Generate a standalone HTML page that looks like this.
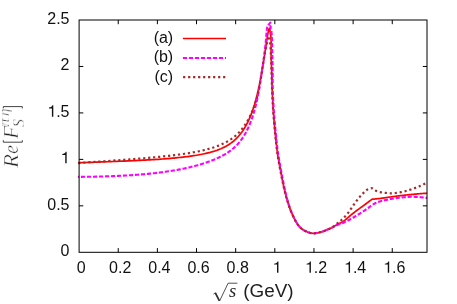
<!DOCTYPE html>
<html>
<head>
<meta charset="utf-8">
<title>Re[F_S^(pi eta)] vs sqrt(s)</title>
<style>
  html, body { margin: 0; padding: 0; background: #ffffff; }
  body { width: 457px; height: 304px; overflow: hidden; }
  svg { display: block; will-change: transform; }
  .sans { font-family: "Liberation Sans", sans-serif; }
  .serif { font-family: "Liberation Serif", serif; font-style: italic; }
</style>
</head>
<body>
<svg width="457" height="304" viewBox="0 0 457 304">
  <rect x="0" y="0" width="457" height="304" fill="#ffffff"/>

  <!-- curves -->
  <g fill="none" stroke-linejoin="round">
    <path d="M78.00,162.74 L81.55,162.63 L85.03,162.51 L88.45,162.40 L91.81,162.29 L95.10,162.17 L98.34,162.06 L101.51,161.95 L104.63,161.84 L107.70,161.73 L110.70,161.61 L113.66,161.50 L116.55,161.39 L119.40,161.27 L122.19,161.16 L124.94,161.05 L127.63,160.93 L130.27,160.81 L132.87,160.69 L135.42,160.58 L137.92,160.45 L140.38,160.33 L142.79,160.21 L145.16,160.08 L147.48,159.95 L149.77,159.82 L152.01,159.69 L154.21,159.55 L156.37,159.42 L158.49,159.28 L160.58,159.13 L162.62,158.99 L164.63,158.84 L166.60,158.68 L168.53,158.53 L170.44,158.37 L172.30,158.21 L174.13,158.04 L175.93,157.87 L177.70,157.69 L179.43,157.52 L181.13,157.33 L182.80,157.15 L184.44,156.95 L186.05,156.76 L187.64,156.55 L189.19,156.35 L190.71,156.14 L192.21,155.92 L193.68,155.70 L195.12,155.47 L196.54,155.24 L197.93,155.00 L199.30,154.75 L200.64,154.50 L201.95,154.24 L203.24,153.98 L204.51,153.71 L205.76,153.43 L206.98,153.15 L208.18,152.86 L209.36,152.56 L210.52,152.25 L211.66,151.94 L212.77,151.61 L213.87,151.28 L214.94,150.94 L216.00,150.59 L217.04,150.23 L218.05,149.85 L219.05,149.47 L220.03,149.08 L221.00,148.68 L221.94,148.26 L222.87,147.83 L223.78,147.39 L224.68,146.94 L225.56,146.48 L226.42,146.00 L227.27,145.51 L228.10,145.01 L228.92,144.49 L229.72,143.96 L230.51,143.42 L231.28,142.86 L232.04,142.29 L232.78,141.71 L233.52,141.11 L234.23,140.50 L234.94,139.87 L235.63,139.23 L236.31,138.57 L236.98,137.90 L237.63,137.22 L238.28,136.51 L238.91,135.80 L239.53,135.07 L240.14,134.33 L240.73,133.57 L241.32,132.80 L241.90,132.01 L242.46,131.21 L243.02,130.40 L243.56,129.58 L244.10,128.74 L244.63,127.88 L245.14,127.02 L245.65,126.14 L246.15,125.25 L246.63,124.35 L247.11,123.43 L247.58,122.50 L248.05,121.56 L248.50,120.61 L248.95,119.65 L249.38,118.67 L249.81,117.68 L250.24,116.68 L250.65,115.67 L251.06,114.65 L251.46,113.62 L251.85,112.57 L252.23,111.52 L252.61,110.45 L252.98,109.38 L253.34,108.29 L253.70,107.19 L254.05,106.08 L254.40,104.97 L254.74,103.84 L255.07,102.70 L255.39,101.56 L255.71,100.40 L256.03,99.24 L256.34,98.07 L256.64,96.89 L256.94,95.71 L257.23,94.52 L257.52,93.32 L257.80,92.13 L258.08,90.92 L258.35,89.72 L258.61,88.51 L258.88,87.30 L259.13,86.09 L259.38,84.88 L259.63,83.67 L259.88,82.46 L260.11,81.25 L260.35,80.04 L260.58,78.84 L260.80,77.64 L261.03,76.44 L261.24,75.25 L261.46,74.06 L261.67,72.88 L261.87,71.70 L262.08,70.53 L262.28,69.37 L262.47,68.21 L262.66,67.06 L262.85,65.93 L263.03,64.80 L263.22,63.68 L263.39,62.58 L263.57,61.48 L263.74,60.40 L263.91,59.33 L264.07,58.27 L264.24,57.22 L264.40,56.19 L264.55,55.16 L264.71,54.16 L264.86,53.16 L265.00,52.18 L265.15,51.22 L265.29,50.26 L265.43,49.33 L265.57,48.41 L265.71,47.51 L265.84,46.62 L265.97,45.75 L266.10,44.89 L266.22,44.06 L266.35,43.24 L266.47,42.44 L266.59,41.65 L266.70,40.89 L266.82,40.15 L266.93,39.42 L267.04,38.72 L267.15,38.03 L267.25,37.37 L267.36,36.72 L267.46,36.10 L267.56,35.50 L267.66,34.92 L267.76,34.37 L267.85,33.83 L267.95,33.32 L268.04,32.84 L268.13,32.37 L268.22,31.93 L268.31,31.52 L268.39,31.13 L268.47,30.76 L268.56,30.42 L268.64,30.11 L268.72,29.82 L268.79,29.56 L268.87,29.33 L268.95,29.12 L269.02,28.94 L269.09,28.79 L269.16,28.67 L269.23,28.57 L269.30,28.51 L269.37,28.47 L269.44,28.47 L269.50,28.40 L269.56,28.73 L269.63,29.05 L269.70,29.38 L269.77,29.70 L269.83,30.03 L269.90,30.35 L269.97,30.67 L270.04,31.00 L270.10,31.33 L270.16,31.66 L270.23,31.99 L270.29,32.32 L270.34,32.66 L270.40,33.00 L270.45,33.34 L270.51,33.67 L270.56,33.99 L270.61,34.31 L270.65,34.63 L270.70,34.96 L270.75,35.29 L270.79,35.63 L270.83,35.98 L270.87,36.34 L270.91,36.72 L270.94,37.12 L270.97,37.55 L271.00,38.00 L271.03,38.48 L271.05,38.98 L271.07,39.50 L271.08,40.04 L271.09,40.59 L271.11,41.17 L271.12,41.75 L271.12,42.34 L271.13,42.95 L271.13,43.55 L271.14,44.17 L271.14,44.78 L271.15,45.39 L271.15,46.00 L271.15,46.59 L271.15,47.16 L271.14,47.71 L271.13,48.25 L271.12,48.79 L271.11,49.34 L271.10,49.91 L271.09,50.50 L271.08,51.12 L271.07,51.78 L271.07,52.49 L271.07,53.26 L271.08,54.09 L271.10,55.00 L271.12,55.99 L271.15,57.05 L271.19,58.19 L271.23,59.38 L271.27,60.63 L271.32,61.91 L271.37,63.23 L271.42,64.56 L271.47,65.91 L271.52,67.26 L271.57,68.60 L271.61,69.93 L271.66,71.23 L271.70,72.50 L271.74,73.75 L271.77,74.99 L271.81,76.23 L271.84,77.48 L271.87,78.72 L271.90,79.96 L271.93,81.20 L271.96,82.44 L272.00,83.68 L272.03,84.92 L272.07,86.17 L272.11,87.41 L272.15,88.65 L272.20,89.90 L272.25,91.16 L272.31,92.44 L272.37,93.73 L272.43,95.04 L272.49,96.34 L272.56,97.65 L272.62,98.95 L272.69,100.24 L272.76,101.51 L272.83,102.75 L272.90,103.97 L272.97,105.16 L273.03,106.30 L273.10,107.40 L273.16,108.45 L273.22,109.44 L273.28,110.38 L273.34,111.29 L273.40,112.16 L273.46,113.02 L273.52,113.86 L273.58,114.69 L273.64,115.52 L273.71,116.37 L273.77,117.23 L273.85,118.12 L273.92,119.04 L274.00,120.00 L274.08,121.00 L274.17,122.02 L274.26,123.06 L274.36,124.11 L274.45,125.18 L274.55,126.26 L274.65,127.35 L274.76,128.45 L274.86,129.54 L274.97,130.64 L275.07,131.74 L275.18,132.84 L275.29,133.92 L275.40,135.00 L275.51,136.08 L275.62,137.19 L275.74,138.30 L275.86,139.43 L275.97,140.56 L276.09,141.69 L276.22,142.81 L276.34,143.92 L276.46,145.01 L276.58,146.08 L276.70,147.12 L276.82,148.12 L276.93,149.08 L277.05,150.00 L277.16,150.86 L277.27,151.67 L277.38,152.43 L277.48,153.15 L277.58,153.84 L277.68,154.50 L277.78,155.16 L277.89,155.80 L278.00,156.45 L278.11,157.11 L278.22,157.78 L278.34,158.48 L278.47,159.22 L278.60,160.00 L278.74,160.82 L278.89,161.65 L279.04,162.51 L279.20,163.39 L279.36,164.28 L279.52,165.18 L279.69,166.09 L279.86,167.01 L280.03,167.93 L280.21,168.86 L280.38,169.78 L280.55,170.69 L280.73,171.60 L280.90,172.50 L281.07,173.39 L281.24,174.29 L281.41,175.18 L281.59,176.07 L281.76,176.96 L281.93,177.86 L282.11,178.75 L282.29,179.64 L282.47,180.54 L282.65,181.43 L282.84,182.32 L283.02,183.21 L283.22,184.11 L283.41,185.00 L283.61,185.89 L283.81,186.77 L284.00,187.66 L284.20,188.53 L284.40,189.41 L284.60,190.29 L284.80,191.17 L285.01,192.06 L285.23,192.94 L285.45,193.84 L285.69,194.74 L285.93,195.65 L286.18,196.57 L286.44,197.50 L286.72,198.45 L287.00,199.41 L287.28,200.39 L287.58,201.37 L287.88,202.37 L288.19,203.37 L288.51,204.38 L288.83,205.38 L289.17,206.38 L289.51,207.38 L289.86,208.36 L290.23,209.34 L290.60,210.30 L290.98,211.25 L291.37,212.20 L291.78,213.16 L292.21,214.12 L292.64,215.09 L293.09,216.06 L293.55,217.02 L294.01,217.97 L294.47,218.90 L294.94,219.80 L295.41,220.67 L295.88,221.51 L296.34,222.30 L296.80,223.05 L297.25,223.75 L297.69,224.40 L298.12,225.00 L298.55,225.56 L298.96,226.08 L299.38,226.57 L299.80,227.02 L300.22,227.45 L300.65,227.86 L301.08,228.25 L301.53,228.62 L302.00,228.97 L302.48,229.32 L302.98,229.66 L303.50,230.00 L304.05,230.34 L304.62,230.66 L305.21,230.98 L305.82,231.28 L306.44,231.57 L307.08,231.84 L307.72,232.09 L308.37,232.33 L309.02,232.54 L309.68,232.74 L310.33,232.91 L310.98,233.05 L311.62,233.16 L312.25,233.25 L312.87,233.31 L313.49,233.33 L314.10,233.33 L314.71,233.30 L315.32,233.25 L315.93,233.17 L316.55,233.08 L317.16,232.96 L317.78,232.83 L318.41,232.69 L319.04,232.53 L319.68,232.36 L320.34,232.18 L321.00,232.00 L321.68,231.80 L322.38,231.58 L323.11,231.33 L323.84,231.06 L324.58,230.78 L325.33,230.49 L326.08,230.19 L326.82,229.88 L327.56,229.56 L328.29,229.24 L329.00,228.92 L329.69,228.61 L330.36,228.30 L331.00,228.00 L331.62,227.70 L332.22,227.39 L332.82,227.07 L333.40,226.75 L333.97,226.43 L334.52,226.10 L335.06,225.78 L335.59,225.46 L336.11,225.15 L336.61,224.84 L337.10,224.55 L337.58,224.27 L338.05,224.00 L338.50,223.75 L338.92,223.53 L339.30,223.35 L339.65,223.20 L339.97,223.08 L340.27,222.96 L340.56,222.86 L340.84,222.75 L341.14,222.63 L341.45,222.50 L341.78,222.33 L342.14,222.13 L342.55,221.89 L342.99,221.60 L343.50,221.25 L344.05,220.84 L344.64,220.38 L345.27,219.88 L345.92,219.34 L346.60,218.77 L347.30,218.17 L348.03,217.55 L348.78,216.91 L349.54,216.26 L350.31,215.60 L351.10,214.94 L351.90,214.28 L352.70,213.63 L353.50,213.00 L354.33,212.36 L355.21,211.69 L356.13,211.00 L357.08,210.29 L358.05,209.58 L359.02,208.86 L360.00,208.14 L360.97,207.43 L361.91,206.74 L362.83,206.08 L363.71,205.44 L364.53,204.83 L365.30,204.27 L366.00,203.75 L366.63,203.28 L367.20,202.86 L367.72,202.47 L368.19,202.12 L368.62,201.79 L369.03,201.49 L369.41,201.20 L369.77,200.93 L370.12,200.66 L370.48,200.40 L370.83,200.13 L371.20,199.85 L371.59,199.56 L372.00,199.25 L372.60,199.19 L373.18,199.14 L373.75,199.08 L374.31,199.03 L374.87,198.99 L375.43,198.94 L376.00,198.88 L376.58,198.83 L377.17,198.77 L377.78,198.71 L378.41,198.64 L379.08,198.57 L379.77,198.49 L380.50,198.40 L381.27,198.30 L382.08,198.19 L382.91,198.07 L383.78,197.95 L384.67,197.81 L385.58,197.68 L386.50,197.54 L387.43,197.40 L388.37,197.26 L389.31,197.12 L390.25,196.98 L391.18,196.85 L392.10,196.72 L393.00,196.60 L393.89,196.48 L394.79,196.37 L395.68,196.25 L396.57,196.14 L397.46,196.03 L398.36,195.92 L399.25,195.81 L400.14,195.71 L401.04,195.60 L401.93,195.50 L402.82,195.40 L403.71,195.30 L404.61,195.20 L405.50,195.10 L406.40,195.00 L407.32,194.91 L408.24,194.81 L409.17,194.72 L410.10,194.63 L411.04,194.54 L411.96,194.45 L412.88,194.36 L413.79,194.28 L414.68,194.20 L415.55,194.12 L416.39,194.04 L417.21,193.97 L418.00,193.90 L418.75,193.83 L419.48,193.77 L420.17,193.72 L420.85,193.66 L421.50,193.61 L422.14,193.57 L422.76,193.52 L423.38,193.47 L423.99,193.43 L424.60,193.39 L425.21,193.34 L425.83,193.30 L426.46,193.25 L427.10,193.20" stroke="#ff0000" stroke-width="1.7"/>
    <path d="M78.00,176.86 L81.18,176.84 L84.32,176.81 L87.40,176.78 L90.43,176.73 L93.41,176.68 L96.34,176.62 L99.22,176.56 L102.06,176.49 L104.85,176.41 L107.60,176.32 L110.30,176.23 L112.96,176.12 L115.57,176.02 L118.14,175.90 L120.67,175.78 L123.16,175.65 L125.60,175.52 L128.01,175.38 L130.38,175.23 L132.70,175.08 L135.00,174.92 L137.25,174.75 L139.47,174.58 L141.65,174.40 L143.79,174.21 L145.90,174.02 L147.98,173.83 L150.02,173.62 L152.02,173.42 L154.00,173.20 L155.94,172.98 L157.85,172.76 L159.73,172.53 L161.58,172.29 L163.40,172.05 L165.19,171.80 L166.95,171.55 L168.68,171.29 L170.39,171.03 L172.06,170.76 L173.71,170.49 L175.33,170.21 L176.93,169.93 L178.50,169.64 L180.04,169.35 L181.56,169.05 L183.05,168.75 L184.52,168.44 L185.96,168.13 L187.38,167.82 L188.78,167.50 L190.16,167.18 L191.51,166.85 L192.84,166.52 L194.15,166.18 L195.44,165.84 L196.70,165.50 L197.95,165.15 L199.17,164.80 L200.38,164.45 L201.57,164.09 L202.73,163.72 L203.88,163.36 L205.01,162.99 L206.12,162.62 L207.21,162.24 L208.28,161.86 L209.34,161.48 L210.38,161.09 L211.40,160.71 L212.41,160.31 L213.40,159.92 L214.37,159.52 L215.33,159.12 L216.27,158.71 L217.20,158.30 L218.11,157.88 L219.00,157.46 L219.88,157.04 L220.75,156.61 L221.61,156.17 L222.44,155.73 L223.27,155.28 L224.08,154.82 L224.88,154.36 L225.67,153.89 L226.44,153.42 L227.20,152.94 L227.95,152.45 L228.68,151.95 L229.41,151.44 L230.12,150.93 L230.82,150.41 L231.51,149.87 L232.18,149.33 L232.85,148.78 L233.51,148.22 L234.15,147.66 L234.79,147.08 L235.41,146.49 L236.02,145.89 L236.63,145.28 L237.22,144.66 L237.81,144.02 L238.38,143.38 L238.95,142.72 L239.50,142.06 L240.05,141.38 L240.59,140.69 L241.12,139.99 L241.64,139.27 L242.15,138.55 L242.65,137.81 L243.15,137.07 L243.63,136.31 L244.11,135.54 L244.59,134.75 L245.05,133.96 L245.51,133.15 L245.96,132.34 L246.40,131.51 L246.83,130.67 L247.26,129.82 L247.68,128.95 L248.09,128.08 L248.50,127.19 L248.90,126.29 L249.29,125.38 L249.68,124.46 L250.06,123.53 L250.43,122.58 L250.80,121.62 L251.17,120.66 L251.52,119.68 L251.87,118.68 L252.22,117.68 L252.56,116.66 L252.89,115.63 L253.22,114.60 L253.54,113.54 L253.86,112.48 L254.17,111.40 L254.48,110.32 L254.78,109.22 L255.08,108.11 L255.37,106.98 L255.66,105.85 L255.94,104.70 L256.22,103.54 L256.50,102.37 L256.77,101.19 L257.03,100.00 L257.29,98.79 L257.55,97.57 L257.80,96.34 L258.05,95.10 L258.29,93.84 L258.53,92.58 L258.77,91.30 L259.00,90.01 L259.23,88.71 L259.45,87.40 L259.68,86.09 L259.89,84.77 L260.11,83.44 L260.32,82.12 L260.52,80.80 L260.73,79.47 L260.93,78.16 L261.13,76.84 L261.32,75.54 L261.51,74.24 L261.70,72.96 L261.88,71.68 L262.06,70.42 L262.24,69.18 L262.42,67.95 L262.59,66.74 L262.76,65.56 L262.93,64.39 L263.09,63.25 L263.25,62.13 L263.41,61.03 L263.57,59.95 L263.72,58.87 L263.88,57.80 L264.02,56.74 L264.17,55.68 L264.32,54.61 L264.46,53.54 L264.60,52.46 L264.73,51.37 L264.87,50.26 L265.00,49.14 L265.13,47.99 L265.26,46.81 L265.39,45.61 L265.51,44.37 L265.63,43.10 L265.75,41.79 L265.87,40.46 L265.99,39.12 L266.10,37.79 L266.22,36.47 L266.33,35.19 L266.44,33.95 L266.54,32.77 L266.65,31.66 L266.75,30.64 L266.85,29.71 L266.95,28.90 L267.05,28.21 L267.15,27.63 L267.25,27.18 L267.34,26.86 L267.43,26.65 L267.52,26.58 L267.61,26.64 L267.70,26.70 L268.40,25.10 L270.30,22.60 L270.31,22.79 L270.32,22.97 L270.33,23.16 L270.34,23.35 L270.35,23.53 L270.36,23.72 L270.37,23.91 L270.38,24.09 L270.39,24.28 L270.40,24.46 L270.41,24.65 L270.42,24.83 L270.44,25.02 L270.45,25.20 L270.46,25.38 L270.48,25.56 L270.49,25.73 L270.50,25.90 L270.52,26.07 L270.53,26.24 L270.55,26.41 L270.56,26.58 L270.58,26.75 L270.60,26.93 L270.62,27.11 L270.65,27.30 L270.67,27.50 L270.70,27.70 L270.73,27.91 L270.77,28.12 L270.81,28.34 L270.85,28.56 L270.90,28.79 L270.94,29.02 L270.99,29.26 L271.04,29.49 L271.09,29.74 L271.13,29.98 L271.18,30.23 L271.22,30.48 L271.26,30.74 L271.30,31.00 L271.33,31.26 L271.37,31.53 L271.40,31.79 L271.43,32.06 L271.46,32.34 L271.49,32.61 L271.52,32.89 L271.55,33.18 L271.57,33.47 L271.60,33.76 L271.62,34.06 L271.65,34.37 L271.67,34.68 L271.70,35.00 L271.72,35.30 L271.75,35.57 L271.77,35.82 L271.79,36.06 L271.81,36.30 L271.83,36.55 L271.85,36.81 L271.87,37.10 L271.89,37.44 L271.91,37.81 L271.93,38.25 L271.96,38.75 L271.98,39.33 L272.00,40.00 L272.02,40.76 L272.05,41.60 L272.07,42.51 L272.10,43.48 L272.12,44.52 L272.15,45.60 L272.17,46.72 L272.20,47.87 L272.22,49.05 L272.25,50.24 L272.27,51.44 L272.30,52.64 L272.32,53.83 L272.35,55.00 L272.38,56.17 L272.40,57.37 L272.43,58.59 L272.46,59.82 L272.49,61.07 L272.52,62.33 L272.54,63.60 L272.57,64.88 L272.60,66.15 L272.62,67.43 L272.64,68.71 L272.67,69.98 L272.68,71.25 L272.70,72.50 L272.71,73.75 L272.72,74.99 L272.72,76.23 L272.71,77.48 L272.71,78.72 L272.70,79.96 L272.69,81.20 L272.68,82.44 L272.68,83.68 L272.68,84.92 L272.69,86.17 L272.70,87.41 L272.72,88.65 L272.75,89.90 L272.79,91.16 L272.83,92.44 L272.89,93.73 L272.95,95.04 L273.01,96.34 L273.08,97.65 L273.15,98.95 L273.22,100.24 L273.29,101.51 L273.37,102.75 L273.44,103.97 L273.51,105.16 L273.58,106.30 L273.65,107.40 L273.71,108.45 L273.77,109.44 L273.83,110.38 L273.89,111.29 L273.95,112.16 L274.01,113.02 L274.07,113.86 L274.13,114.69 L274.19,115.52 L274.26,116.37 L274.32,117.23 L274.40,118.12 L274.47,119.04 L274.55,120.00 L274.63,121.00 L274.72,122.02 L274.81,123.06 L274.91,124.11 L275.00,125.18 L275.10,126.26 L275.20,127.35 L275.31,128.45 L275.41,129.54 L275.52,130.64 L275.62,131.74 L275.73,132.84 L275.84,133.92 L275.95,135.00 L276.06,136.08 L276.17,137.19 L276.29,138.30 L276.41,139.43 L276.52,140.56 L276.64,141.69 L276.77,142.81 L276.89,143.92 L277.01,145.01 L277.13,146.08 L277.25,147.12 L277.37,148.12 L277.48,149.08 L277.60,150.00 L277.71,150.86 L277.82,151.67 L277.93,152.43 L278.03,153.15 L278.13,153.84 L278.23,154.50 L278.33,155.16 L278.44,155.80 L278.55,156.45 L278.66,157.11 L278.77,157.78 L278.89,158.48 L279.02,159.22 L279.15,160.00 L279.29,160.82 L279.44,161.65 L279.59,162.51 L279.75,163.39 L279.91,164.28 L280.08,165.18 L280.24,166.09 L280.41,167.01 L280.59,167.93 L280.76,168.86 L280.93,169.78 L281.11,170.69 L281.28,171.60 L281.45,172.50 L281.62,173.39 L281.79,174.29 L281.96,175.18 L282.13,176.07 L282.30,176.96 L282.47,177.86 L282.64,178.75 L282.81,179.64 L282.98,180.54 L283.16,181.43 L283.34,182.32 L283.52,183.21 L283.71,184.11 L283.89,185.00 L284.08,185.89 L284.27,186.77 L284.45,187.66 L284.64,188.53 L284.82,189.41 L285.01,190.29 L285.20,191.17 L285.40,192.06 L285.61,192.94 L285.82,193.84 L286.03,194.74 L286.26,195.65 L286.50,196.57 L286.75,197.50 L287.01,198.45 L287.28,199.41 L287.55,200.39 L287.83,201.37 L288.12,202.37 L288.42,203.37 L288.72,204.38 L289.03,205.38 L289.35,206.38 L289.68,207.38 L290.02,208.36 L290.37,209.34 L290.73,210.30 L291.10,211.25 L291.48,212.20 L291.88,213.16 L292.30,214.12 L292.72,215.09 L293.16,216.06 L293.60,217.02 L294.06,217.97 L294.51,218.90 L294.97,219.80 L295.43,220.67 L295.89,221.51 L296.35,222.30 L296.80,223.05 L297.25,223.75 L297.69,224.40 L298.12,225.00 L298.54,225.56 L298.96,226.08 L299.37,226.57 L299.79,227.02 L300.21,227.45 L300.64,227.86 L301.08,228.25 L301.53,228.62 L301.99,228.97 L302.48,229.32 L302.98,229.66 L303.50,230.00 L304.05,230.34 L304.62,230.66 L305.21,230.98 L305.82,231.28 L306.44,231.57 L307.08,231.84 L307.72,232.09 L308.37,232.33 L309.02,232.54 L309.68,232.74 L310.33,232.91 L310.98,233.05 L311.62,233.16 L312.25,233.25 L312.87,233.31 L313.49,233.33 L314.10,233.33 L314.71,233.30 L315.32,233.25 L315.93,233.17 L316.55,233.08 L317.16,232.96 L317.78,232.83 L318.41,232.69 L319.04,232.53 L319.68,232.36 L320.34,232.18 L321.00,232.00 L321.68,231.80 L322.38,231.57 L323.11,231.32 L323.84,231.04 L324.58,230.75 L325.33,230.45 L326.08,230.14 L326.82,229.82 L327.56,229.50 L328.29,229.19 L329.00,228.87 L329.69,228.57 L330.36,228.28 L331.00,228.00 L331.62,227.73 L332.22,227.46 L332.82,227.19 L333.40,226.91 L333.97,226.64 L334.52,226.38 L335.06,226.11 L335.59,225.85 L336.11,225.60 L336.61,225.36 L337.10,225.13 L337.58,224.91 L338.05,224.70 L338.50,224.50 L338.92,224.33 L339.30,224.18 L339.65,224.06 L339.97,223.96 L340.27,223.87 L340.56,223.79 L340.84,223.71 L341.14,223.62 L341.45,223.52 L341.78,223.41 L342.14,223.28 L342.55,223.12 L342.99,222.93 L343.50,222.70 L344.05,222.44 L344.64,222.16 L345.27,221.86 L345.92,221.54 L346.60,221.21 L347.30,220.86 L348.03,220.49 L348.78,220.10 L349.54,219.70 L350.31,219.29 L351.10,218.86 L351.90,218.42 L352.70,217.97 L353.50,217.50 L354.33,217.01 L355.19,216.48 L356.09,215.93 L357.01,215.35 L357.95,214.76 L358.91,214.15 L359.86,213.53 L360.81,212.92 L361.75,212.31 L362.67,211.70 L363.56,211.12 L364.42,210.55 L365.23,210.01 L366.00,209.50 L366.72,209.01 L367.42,208.53 L368.09,208.06 L368.73,207.60 L369.34,207.15 L369.94,206.71 L370.52,206.28 L371.08,205.87 L371.63,205.47 L372.16,205.09 L372.69,204.72 L373.21,204.38 L373.73,204.05 L374.25,203.75 L374.74,203.47 L375.19,203.23 L375.61,203.01 L376.00,202.82 L376.37,202.64 L376.74,202.48 L377.11,202.33 L377.49,202.19 L377.89,202.06 L378.32,201.92 L378.78,201.78 L379.30,201.63 L379.87,201.47 L380.50,201.30 L381.21,201.11 L381.98,200.92 L382.81,200.71 L383.69,200.51 L384.61,200.30 L385.55,200.09 L386.52,199.88 L387.49,199.67 L388.46,199.47 L389.43,199.28 L390.37,199.09 L391.29,198.91 L392.17,198.75 L393.00,198.60 L393.80,198.46 L394.58,198.33 L395.35,198.21 L396.11,198.10 L396.86,198.00 L397.59,197.90 L398.31,197.81 L399.02,197.73 L399.72,197.65 L400.40,197.57 L401.07,197.50 L401.72,197.43 L402.37,197.36 L403.00,197.30 L403.61,197.24 L404.20,197.18 L404.77,197.13 L405.33,197.08 L405.86,197.03 L406.39,196.99 L406.91,196.96 L407.42,196.92 L407.92,196.89 L408.43,196.87 L408.94,196.85 L409.45,196.83 L409.97,196.81 L410.50,196.80 L411.03,196.79 L411.56,196.79 L412.08,196.78 L412.60,196.79 L413.11,196.79 L413.63,196.80 L414.15,196.81 L414.67,196.83 L415.20,196.85 L415.74,196.87 L416.29,196.90 L416.84,196.93 L417.42,196.96 L418.00,197.00 L418.60,197.04 L419.22,197.09 L419.84,197.15 L420.48,197.21 L421.13,197.27 L421.79,197.34 L422.45,197.41 L423.12,197.48 L423.78,197.55 L424.45,197.62 L425.12,197.69 L425.79,197.77 L426.45,197.83 L427.10,197.90" stroke="#ff00ff" stroke-width="2.1" stroke-dasharray="4.2 1.8" stroke-dashoffset="3.02"/>
    <path d="M78.00,163.05 L81.48,162.82 L84.89,162.59 L88.24,162.36 L91.53,162.14 L94.77,161.92 L97.94,161.70 L101.06,161.48 L104.13,161.27 L107.14,161.06 L110.09,160.85 L113.00,160.64 L115.85,160.43 L118.65,160.23 L121.40,160.02 L124.10,159.82 L126.75,159.62 L129.36,159.42 L131.92,159.22 L134.43,159.02 L136.90,158.82 L139.33,158.62 L141.71,158.43 L144.05,158.23 L146.35,158.03 L148.61,157.83 L150.82,157.63 L153.00,157.43 L155.14,157.23 L157.24,157.03 L159.30,156.82 L161.33,156.62 L163.32,156.41 L165.27,156.21 L167.19,156.00 L169.08,155.79 L170.93,155.57 L172.75,155.36 L174.54,155.14 L176.29,154.92 L178.01,154.70 L179.71,154.47 L181.37,154.24 L183.00,154.01 L184.61,153.78 L186.18,153.54 L187.73,153.30 L189.25,153.05 L190.74,152.80 L192.21,152.55 L193.65,152.29 L195.06,152.03 L196.45,151.76 L197.81,151.49 L199.15,151.21 L200.47,150.93 L201.76,150.64 L203.03,150.35 L204.28,150.05 L205.50,149.75 L206.71,149.44 L207.89,149.13 L209.05,148.81 L210.19,148.48 L211.31,148.14 L212.41,147.80 L213.49,147.46 L214.55,147.10 L215.59,146.74 L216.61,146.38 L217.62,146.00 L218.60,145.62 L219.57,145.23 L220.53,144.83 L221.46,144.42 L222.38,144.01 L223.28,143.59 L224.17,143.16 L225.04,142.72 L225.89,142.27 L226.73,141.81 L227.56,141.35 L228.37,140.87 L229.16,140.39 L229.94,139.89 L230.71,139.39 L231.46,138.88 L232.20,138.35 L232.93,137.82 L233.64,137.28 L234.35,136.72 L235.04,136.16 L235.71,135.58 L236.38,135.00 L237.03,134.40 L237.67,133.80 L238.30,133.18 L238.92,132.55 L239.53,131.91 L240.12,131.26 L240.71,130.60 L241.28,129.93 L241.85,129.25 L242.40,128.56 L242.95,127.86 L243.48,127.15 L244.01,126.42 L244.53,125.69 L245.03,124.95 L245.53,124.19 L246.02,123.42 L246.50,122.65 L246.98,121.86 L247.44,121.07 L247.89,120.26 L248.34,119.44 L248.78,118.62 L249.21,117.79 L249.64,116.94 L250.05,116.09 L250.46,115.23 L250.86,114.36 L251.26,113.49 L251.65,112.60 L252.03,111.71 L252.40,110.81 L252.77,109.90 L253.13,108.98 L253.48,108.06 L253.83,107.13 L254.17,106.19 L254.51,105.24 L254.84,104.28 L255.16,103.31 L255.48,102.32 L255.79,101.32 L256.10,100.30 L256.40,99.26 L256.69,98.21 L256.98,97.14 L257.27,96.04 L257.55,94.93 L257.83,93.79 L258.10,92.62 L258.36,91.43 L258.62,90.22 L258.88,88.97 L259.13,87.71 L259.38,86.42 L259.62,85.11 L259.86,83.79 L260.09,82.46 L260.32,81.12 L260.55,79.77 L260.77,78.42 L260.99,77.08 L261.20,75.73 L261.41,74.40 L261.62,73.07 L261.82,71.76 L262.02,70.47 L262.22,69.19 L262.41,67.94 L262.60,66.71 L262.78,65.52 L262.97,64.35 L263.14,63.22 L263.32,62.13 L263.49,61.06 L263.66,60.03 L263.83,59.03 L263.99,58.07 L264.15,57.13 L264.31,56.22 L264.46,55.35 L264.62,54.50 L264.77,53.68 L264.91,52.88 L265.06,52.11 L265.20,51.37 L265.34,50.66 L265.47,49.97 L265.61,49.30 L265.74,48.66 L265.87,48.04 L266.00,47.45 L266.12,46.87 L266.24,46.32 L266.36,45.78 L266.48,45.27 L266.60,44.78 L266.71,44.30 L266.83,43.85 L266.94,43.41 L267.04,42.98 L267.15,42.58 L267.25,42.19 L267.36,41.81 L267.46,41.45 L267.56,41.10 L267.65,40.76 L267.75,40.44 L267.84,40.13 L267.93,39.83 L268.02,39.54 L268.11,39.26 L268.20,38.99 L268.28,38.73 L268.37,38.48 L268.45,38.23 L268.53,37.99 L268.61,37.76 L268.69,37.53 L268.77,37.31 L268.84,37.09 L268.92,36.88 L268.99,36.67 L269.06,36.46 L269.13,36.25 L269.20,36.00 L269.28,36.64 L269.36,37.28 L269.44,37.91 L269.53,38.54 L269.61,39.17 L269.70,39.80 L269.78,40.44 L269.86,41.07 L269.94,41.71 L270.02,42.36 L270.09,43.01 L270.17,43.66 L270.24,44.33 L270.30,45.00 L270.36,45.67 L270.42,46.31 L270.47,46.94 L270.52,47.57 L270.57,48.19 L270.61,48.82 L270.66,49.47 L270.70,50.14 L270.74,50.83 L270.78,51.57 L270.82,52.34 L270.86,53.17 L270.91,54.05 L270.95,55.00 L270.99,56.02 L271.04,57.11 L271.08,58.26 L271.13,59.46 L271.17,60.70 L271.22,61.98 L271.26,63.29 L271.30,64.61 L271.35,65.95 L271.39,67.29 L271.43,68.62 L271.47,69.94 L271.51,71.24 L271.55,72.50 L271.59,73.75 L271.62,74.99 L271.66,76.23 L271.69,77.48 L271.72,78.72 L271.75,79.96 L271.78,81.20 L271.81,82.44 L271.85,83.68 L271.88,84.92 L271.92,86.17 L271.96,87.41 L272.00,88.65 L272.05,89.90 L272.10,91.16 L272.16,92.44 L272.22,93.73 L272.28,95.04 L272.34,96.34 L272.41,97.65 L272.48,98.95 L272.54,100.24 L272.61,101.51 L272.68,102.75 L272.75,103.97 L272.82,105.16 L272.88,106.30 L272.95,107.40 L273.01,108.45 L273.07,109.44 L273.13,110.38 L273.19,111.29 L273.25,112.16 L273.31,113.02 L273.37,113.86 L273.43,114.69 L273.49,115.52 L273.56,116.37 L273.62,117.23 L273.70,118.12 L273.77,119.04 L273.85,120.00 L273.93,121.00 L274.02,122.02 L274.11,123.06 L274.21,124.11 L274.30,125.18 L274.40,126.26 L274.50,127.35 L274.61,128.45 L274.71,129.54 L274.82,130.64 L274.92,131.74 L275.03,132.84 L275.14,133.92 L275.25,135.00 L275.36,136.08 L275.47,137.19 L275.59,138.30 L275.71,139.43 L275.82,140.56 L275.94,141.69 L276.07,142.81 L276.19,143.92 L276.31,145.01 L276.43,146.08 L276.55,147.12 L276.67,148.12 L276.78,149.08 L276.90,150.00 L277.01,150.86 L277.12,151.67 L277.23,152.43 L277.33,153.15 L277.43,153.84 L277.53,154.50 L277.63,155.16 L277.74,155.80 L277.85,156.45 L277.96,157.11 L278.07,157.78 L278.19,158.48 L278.32,159.22 L278.45,160.00 L278.59,160.82 L278.74,161.65 L278.89,162.51 L279.05,163.39 L279.21,164.28 L279.37,165.18 L279.54,166.09 L279.71,167.01 L279.88,167.93 L280.05,168.86 L280.23,169.78 L280.40,170.69 L280.58,171.60 L280.75,172.50 L280.92,173.39 L281.09,174.29 L281.27,175.18 L281.44,176.07 L281.61,176.96 L281.79,177.86 L281.97,178.75 L282.15,179.64 L282.33,180.54 L282.51,181.43 L282.70,182.32 L282.89,183.21 L283.08,184.11 L283.28,185.00 L283.48,185.89 L283.68,186.77 L283.88,187.66 L284.08,188.53 L284.28,189.41 L284.48,190.29 L284.69,191.17 L284.91,192.06 L285.13,192.94 L285.35,193.84 L285.59,194.74 L285.84,195.65 L286.09,196.57 L286.36,197.50 L286.64,198.45 L286.92,199.41 L287.21,200.39 L287.51,201.37 L287.82,202.37 L288.13,203.37 L288.45,204.38 L288.78,205.38 L289.12,206.38 L289.47,207.38 L289.82,208.36 L290.19,209.34 L290.56,210.30 L290.95,211.25 L291.34,212.20 L291.76,213.16 L292.18,214.12 L292.62,215.09 L293.07,216.06 L293.53,217.02 L293.99,217.97 L294.46,218.90 L294.93,219.80 L295.40,220.67 L295.87,221.51 L296.34,222.30 L296.80,223.05 L297.25,223.75 L297.69,224.40 L298.12,225.00 L298.55,225.56 L298.97,226.08 L299.38,226.57 L299.80,227.02 L300.22,227.45 L300.65,227.86 L301.09,228.25 L301.53,228.62 L302.00,228.97 L302.48,229.32 L302.98,229.66 L303.50,230.00 L304.05,230.34 L304.62,230.66 L305.21,230.98 L305.82,231.28 L306.44,231.57 L307.08,231.84 L307.72,232.09 L308.37,232.33 L309.02,232.54 L309.68,232.74 L310.33,232.91 L310.98,233.05 L311.62,233.16 L312.25,233.25 L312.87,233.31 L313.49,233.33 L314.10,233.33 L314.71,233.30 L315.32,233.25 L315.93,233.17 L316.55,233.08 L317.16,232.96 L317.78,232.83 L318.41,232.69 L319.04,232.53 L319.68,232.36 L320.34,232.18 L321.00,232.00 L321.68,231.80 L322.38,231.59 L323.11,231.35 L323.84,231.10 L324.58,230.84 L325.33,230.56 L326.08,230.27 L326.82,229.96 L327.56,229.65 L328.29,229.33 L329.00,229.01 L329.69,228.67 L330.36,228.34 L331.00,228.00 L331.62,227.65 L332.23,227.28 L332.83,226.89 L333.41,226.49 L333.99,226.08 L334.55,225.66 L335.09,225.24 L335.63,224.82 L336.15,224.41 L336.65,224.00 L337.14,223.60 L337.61,223.21 L338.06,222.85 L338.50,222.50 L338.91,222.18 L339.30,221.87 L339.65,221.59 L339.99,221.32 L340.30,221.06 L340.61,220.81 L340.90,220.56 L341.19,220.31 L341.47,220.06 L341.76,219.80 L342.05,219.53 L342.35,219.24 L342.67,218.93 L343.00,218.60 L343.34,218.25 L343.69,217.90 L344.04,217.54 L344.40,217.17 L344.75,216.80 L345.11,216.41 L345.48,216.02 L345.84,215.61 L346.21,215.19 L346.59,214.76 L346.96,214.32 L347.34,213.86 L347.72,213.39 L348.10,212.90 L348.49,212.39 L348.87,211.86 L349.26,211.32 L349.66,210.75 L350.05,210.17 L350.45,209.58 L350.85,208.98 L351.26,208.37 L351.67,207.76 L352.08,207.15 L352.49,206.54 L352.91,205.94 L353.33,205.34 L353.75,204.75 L354.18,204.16 L354.61,203.57 L355.04,202.98 L355.47,202.38 L355.91,201.78 L356.35,201.18 L356.80,200.58 L357.24,199.99 L357.70,199.40 L358.15,198.82 L358.61,198.25 L359.07,197.69 L359.53,197.14 L360.00,196.60 L360.48,196.07 L360.97,195.52 L361.47,194.98 L361.98,194.44 L362.49,193.90 L363.01,193.37 L363.53,192.85 L364.04,192.35 L364.55,191.87 L365.05,191.41 L365.54,190.99 L366.01,190.59 L366.46,190.22 L366.90,189.90 L367.32,189.62 L367.71,189.39 L368.10,189.19 L368.47,189.03 L368.83,188.90 L369.18,188.79 L369.52,188.69 L369.86,188.61 L370.19,188.54 L370.53,188.47 L370.86,188.40 L371.20,188.31 L371.55,188.22 L371.90,188.10 L372.21,188.30 L372.52,188.51 L372.83,188.73 L373.14,188.94 L373.45,189.16 L373.76,189.38 L374.07,189.59 L374.39,189.80 L374.70,190.01 L375.01,190.21 L375.32,190.40 L375.63,190.58 L375.94,190.74 L376.25,190.90 L376.56,191.04 L376.87,191.18 L377.17,191.30 L377.47,191.41 L377.78,191.52 L378.08,191.62 L378.38,191.71 L378.69,191.80 L379.00,191.88 L379.31,191.96 L379.62,192.03 L379.94,192.11 L380.27,192.18 L380.60,192.25 L380.93,192.32 L381.26,192.38 L381.59,192.44 L381.91,192.50 L382.24,192.55 L382.57,192.59 L382.91,192.64 L383.26,192.68 L383.61,192.72 L383.98,192.76 L384.36,192.79 L384.75,192.83 L385.17,192.86 L385.60,192.90 L386.05,192.94 L386.51,192.98 L386.98,193.03 L387.46,193.08 L387.96,193.12 L388.47,193.17 L388.99,193.21 L389.52,193.25 L390.07,193.27 L390.63,193.29 L391.20,193.30 L391.79,193.30 L392.39,193.28 L393.00,193.25 L393.63,193.20 L394.29,193.15 L394.97,193.08 L395.67,193.00 L396.38,192.91 L397.10,192.82 L397.84,192.71 L398.58,192.59 L399.32,192.47 L400.07,192.34 L400.81,192.20 L401.55,192.06 L402.28,191.91 L403.00,191.75 L403.72,191.58 L404.45,191.40 L405.19,191.21 L405.93,191.00 L406.67,190.79 L407.42,190.57 L408.16,190.34 L408.89,190.11 L409.61,189.88 L410.33,189.65 L411.02,189.42 L411.70,189.19 L412.36,188.97 L413.00,188.75 L413.61,188.54 L414.21,188.32 L414.79,188.11 L415.35,187.90 L415.90,187.69 L416.44,187.48 L416.96,187.27 L417.48,187.05 L417.99,186.84 L418.50,186.63 L419.00,186.41 L419.50,186.19 L420.00,185.97 L420.50,185.75 L421.00,185.53 L421.49,185.30 L421.97,185.07 L422.45,184.84 L422.92,184.61 L423.39,184.37 L423.86,184.14 L424.32,183.91 L424.78,183.67 L425.24,183.44 L425.70,183.20 L426.17,182.97 L426.63,182.73 L427.10,182.50" stroke="#a52a2a" stroke-width="2.2" stroke-dasharray="2.2 2.8" stroke-dashoffset="4.68"/>
  </g>

  <!-- legend -->
  <g class="sans" font-size="16.0" fill="#111">
    <text x="173.2" y="43.0" text-anchor="end">(a)</text>
    <text x="173.2" y="62.4" text-anchor="end">(b)</text>
    <text x="173.2" y="81.6" text-anchor="end">(c)</text>
  </g>
  <g fill="none">
    <line x1="182.9" y1="38.5" x2="226" y2="38.5" stroke="#ff0000" stroke-width="1.7"/>
    <line x1="182.9" y1="58.0" x2="226" y2="58.0" stroke="#ff00ff" stroke-width="2.1" stroke-dasharray="4.2 1.8"/>
    <line x1="183.1" y1="77.1" x2="226" y2="77.1" stroke="#a52a2a" stroke-width="2.2" stroke-dasharray="2.2 2.8"/>
  </g>

  <!-- frame + ticks -->
  <g stroke="#000000" stroke-width="1.0" fill="none">
    <rect x="79.1" y="20.0" width="347.90" height="232.30"/>
    <line x1="118.24" y1="252.30" x2="118.24" y2="248.10"/> <line x1="118.24" y1="20.00" x2="118.24" y2="24.20"/> <line x1="157.39" y1="252.30" x2="157.39" y2="248.10"/> <line x1="157.39" y1="20.00" x2="157.39" y2="24.20"/> <line x1="196.53" y1="252.30" x2="196.53" y2="248.10"/> <line x1="196.53" y1="20.00" x2="196.53" y2="24.20"/> <line x1="235.67" y1="252.30" x2="235.67" y2="248.10"/> <line x1="235.67" y1="20.00" x2="235.67" y2="24.20"/> <line x1="274.82" y1="252.30" x2="274.82" y2="248.10"/> <line x1="274.82" y1="20.00" x2="274.82" y2="24.20"/> <line x1="313.96" y1="252.30" x2="313.96" y2="248.10"/> <line x1="313.96" y1="20.00" x2="313.96" y2="24.20"/> <line x1="353.11" y1="252.30" x2="353.11" y2="248.10"/> <line x1="353.11" y1="20.00" x2="353.11" y2="24.20"/> <line x1="392.25" y1="252.30" x2="392.25" y2="248.10"/> <line x1="392.25" y1="20.00" x2="392.25" y2="24.20"/> <line x1="79.10" y1="205.84" x2="83.30" y2="205.84"/> <line x1="427.00" y1="205.84" x2="422.80" y2="205.84"/> <line x1="79.10" y1="159.38" x2="83.30" y2="159.38"/> <line x1="427.00" y1="159.38" x2="422.80" y2="159.38"/> <line x1="79.10" y1="112.92" x2="83.30" y2="112.92"/> <line x1="427.00" y1="112.92" x2="422.80" y2="112.92"/> <line x1="79.10" y1="66.46" x2="83.30" y2="66.46"/> <line x1="427.00" y1="66.46" x2="422.80" y2="66.46"/>
  </g>

  <!-- tick labels -->
  <g class="sans" font-size="16.0" fill="#111">
    <text x="76.65" y="273.00">0</text> <text x="109.12" y="273.00">0.2</text> <text x="148.27" y="273.00">0.4</text> <text x="187.41" y="273.00">0.6</text> <text x="226.55" y="273.00">0.8</text> <path d="M277.02,272.85 L278.42,272.85 L278.42,261.45 L277.47,261.45 C277.22,262.90 275.92,263.55 274.07,263.70 L274.07,264.50 L277.02,264.50 Z"/> <path d="M309.49,272.85 L310.89,272.85 L310.89,261.45 L309.94,261.45 C309.69,262.90 308.39,263.55 306.54,263.70 L306.54,264.50 L309.49,264.50 Z"/><text x="313.74" y="273.00">.2</text> <path d="M348.64,272.85 L350.04,272.85 L350.04,261.45 L349.09,261.45 C348.84,262.90 347.54,263.55 345.69,263.70 L345.69,264.50 L348.64,264.50 Z"/><text x="352.88" y="273.00">.4</text> <path d="M387.78,272.85 L389.18,272.85 L389.18,261.45 L388.23,261.45 C387.98,262.90 386.68,263.55 384.83,263.70 L384.83,264.50 L387.78,264.50 Z"/><text x="392.03" y="273.00">.6</text>
    <text x="60.60" y="256.30">0</text> <text x="47.26" y="209.84">0.5</text> <path d="M65.25,163.23 L66.65,163.23 L66.65,151.83 L65.70,151.83 C65.45,153.28 64.15,153.93 62.30,154.08 L62.30,154.88 L65.25,154.88 Z"/> <path d="M51.91,116.77 L53.31,116.77 L53.31,105.37 L52.36,105.37 C52.11,106.82 50.81,107.47 48.96,107.62 L48.96,108.42 L51.91,108.42 Z"/><text x="56.16" y="116.92">.5</text> <text x="60.60" y="70.46">2</text> <text x="47.26" y="24.00">2.5</text>
  </g>

  <!-- x axis title -->
  <g id="xlab" fill="#1f1f1f">
    <path d="M213.5,294.1 L215.5,292.8 L219.6,301.0 L228.1,283.2 L237.4,283.2" fill="none" stroke="#333" stroke-width="0.85" stroke-linejoin="miter"/>
    <path d="M215.3,292.9 L219.4,300.9" fill="none" stroke="#333" stroke-width="1.7"/>
    <text class="serif" x="228.9" y="296.8" font-size="18.6">s</text>
    <text class="sans" x="243.2" y="297.0" font-size="18.9">(GeV)</text>
  </g>

  <!-- y axis title -->
  <g id="ylab" transform="translate(17.9,168.1) rotate(-90)" fill="#222" stroke="#ffffff" stroke-width="0.45" paint-order="fill stroke">
    <text class="serif" x="0.2" y="0" font-size="20.7" textLength="14.0" lengthAdjust="spacingAndGlyphs">R</text>
    <text class="serif" x="14.4" y="0" font-size="20.7" textLength="8.6" lengthAdjust="spacingAndGlyphs">e</text>
    <path d="M27.9,-14.6 L25.9,-14.6 L25.9,4.4 L27.9,4.4" fill="none" stroke="#3a3a3a" stroke-width="0.95"/>
    <text class="serif" x="29.1" y="0" font-size="20.7" textLength="13.2" lengthAdjust="spacingAndGlyphs">F</text>
    <text class="serif" x="40.9" y="5.7" font-size="16" textLength="8.2" lengthAdjust="spacingAndGlyphs" stroke-width="0.55">S</text>
    <text class="serif" x="41.3" y="-9.1" font-size="14.4" textLength="8.7" lengthAdjust="spacingAndGlyphs">&#960;</text>
    <text class="serif" x="52.1" y="-9.1" font-size="14.4" textLength="7.4" lengthAdjust="spacingAndGlyphs">&#951;</text>
    <path d="M59.7,-14.6 L61.5,-14.6 L61.5,4.4 L59.7,4.4" fill="none" stroke="#3a3a3a" stroke-width="0.95"/>
  </g>
</svg>
</body>
</html>
